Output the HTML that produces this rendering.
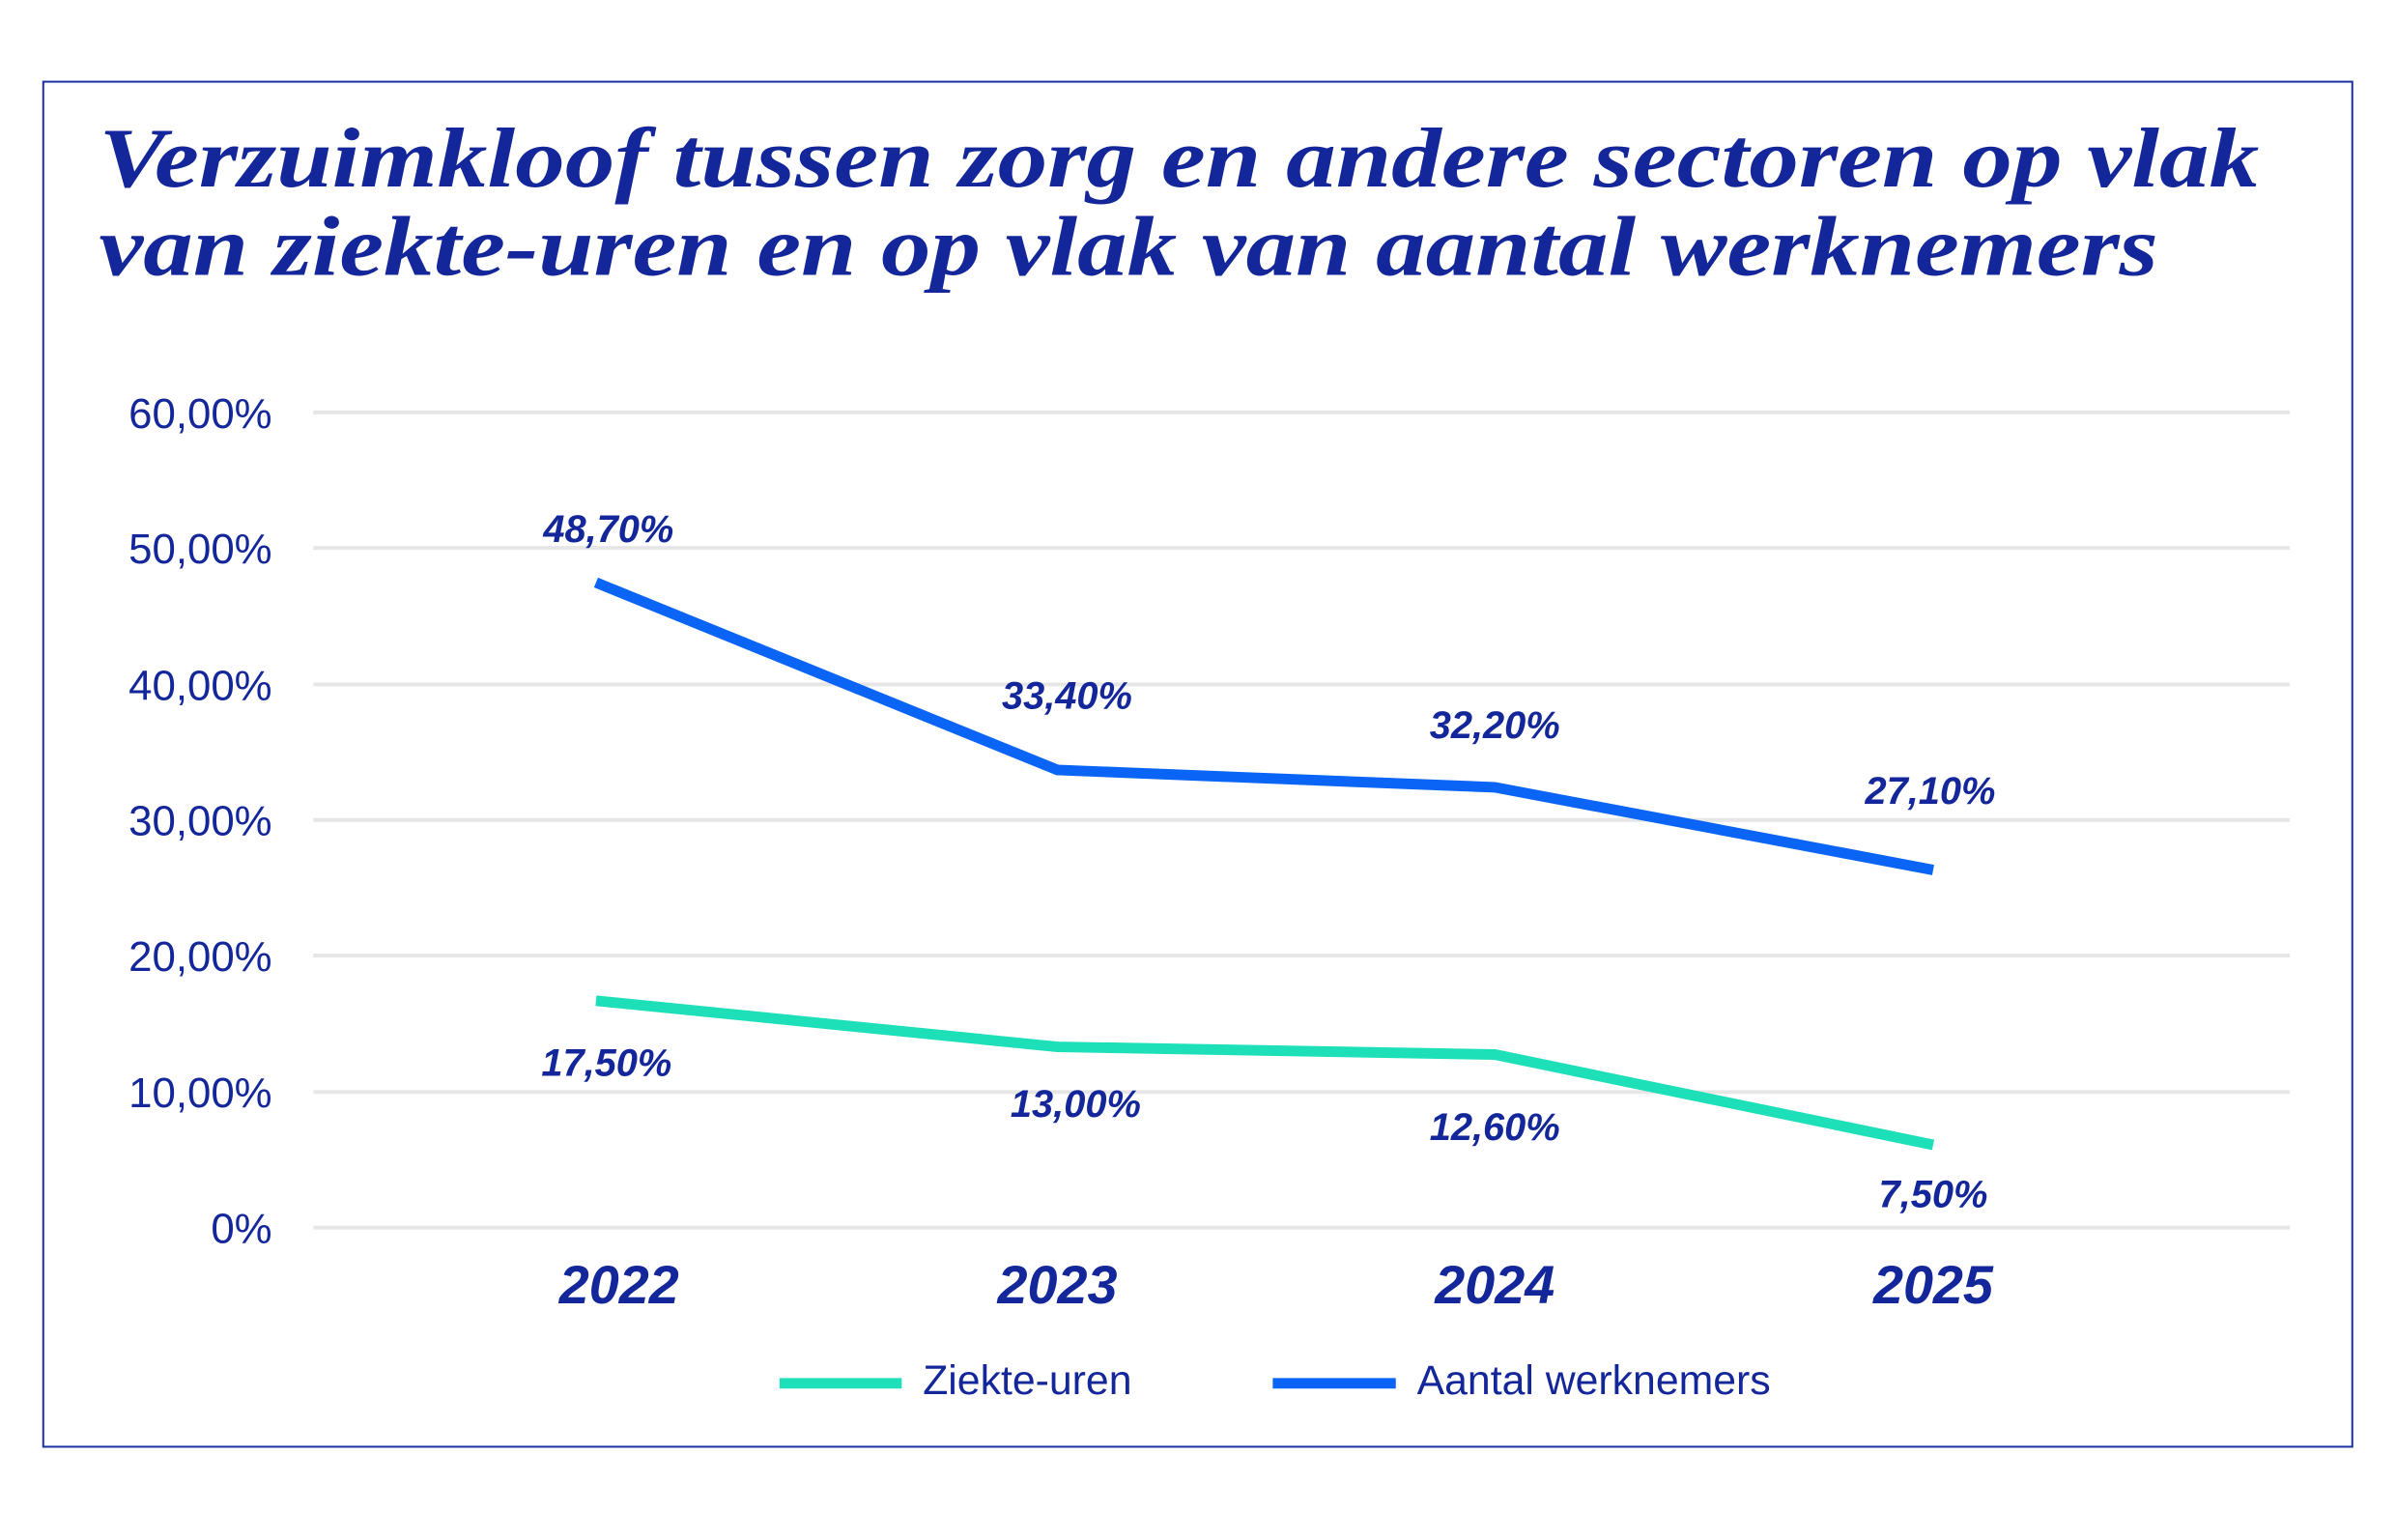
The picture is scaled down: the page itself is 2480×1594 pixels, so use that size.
<!DOCTYPE html>
<html><head><meta charset="utf-8"><style>
body{margin:0;background:#fff;}
svg{display:block;}
</style></head><body>
<svg width="2480" height="1594" xmlns="http://www.w3.org/2000/svg">
<rect x="0" y="0" width="2480" height="1594" fill="#fff"/>
<g transform="scale(0.995)">
<rect x="45" y="85" width="2402" height="1420" fill="none" stroke="#1a2f9e" stroke-width="2"/>
<g font-family="Liberation Serif, serif" font-weight="bold" font-style="italic" font-size="88" fill="#13269a">
<text x="103" y="194" textLength="2247" lengthAdjust="spacingAndGlyphs">Verzuimkloof tussen zorg en andere sectoren op vlak</text>
<text x="103" y="286" textLength="2142" lengthAdjust="spacingAndGlyphs">van ziekte-uren en op vlak van aantal werknemers</text>
</g>
<g stroke="#e6e6e6" stroke-width="4">
<line x1="326" x2="2382" y1="429" y2="429"/>
<line x1="326" x2="2382" y1="570" y2="570"/>
<line x1="326" x2="2382" y1="712" y2="712"/>
<line x1="326" x2="2382" y1="853" y2="853"/>
<line x1="326" x2="2382" y1="994" y2="994"/>
<line x1="326" x2="2382" y1="1136" y2="1136"/>
<line x1="326" x2="2382" y1="1277" y2="1277"/>
</g>
<g font-family="Liberation Sans, sans-serif" font-size="44" fill="#13269a" text-anchor="end">
<text x="283" y="445">60,00%</text>
<text x="283" y="586">50,00%</text>
<text x="283" y="728">40,00%</text>
<text x="283" y="869">30,00%</text>
<text x="283" y="1010">20,00%</text>
<text x="283" y="1152">10,00%</text>
<text x="283" y="1293">0%</text>
</g>
<g font-family="Liberation Sans, sans-serif" font-weight="bold" font-style="italic" font-size="56" fill="#13269a" text-anchor="middle">
<text x="644" y="1356">2022</text>
<text x="1100" y="1356">2023</text>
<text x="1555" y="1356">2024</text>
<text x="2011" y="1356">2025</text>
</g>
<polyline points="620,1041 1100,1089 1555,1097 2011,1191" fill="none" stroke="#1de0b8" stroke-width="11"/>
<polyline points="620,606 1100,801 1555,819 2011,905" fill="none" stroke="#0a64f5" stroke-width="11"/>
<g font-family="Liberation Sans, sans-serif" font-weight="bold" font-style="italic" font-size="40" fill="#13269a" text-anchor="middle">
<text x="633" y="564">48,70%</text>
<text x="1110" y="737">33,40%</text>
<text x="1555" y="768">32,20%</text>
<text x="2008" y="836">27,10%</text>
<text x="631" y="1119">17,50%</text>
<text x="1119" y="1162">13,00%</text>
<text x="1555" y="1186">12,60%</text>
<text x="2011" y="1256">7,50%</text>
</g>
<line x1="811" x2="938" y1="1439" y2="1439" stroke="#1de0b8" stroke-width="11"/>
<line x1="1324" x2="1452" y1="1439" y2="1439" stroke="#0a64f5" stroke-width="11"/>
<g font-family="Liberation Sans, sans-serif" font-size="43" fill="#13269a">
<text x="960" y="1450">Ziekte-uren</text>
<text x="1474" y="1450">Aantal werknemers</text>
</g>
</g>
</svg>
</body></html>
